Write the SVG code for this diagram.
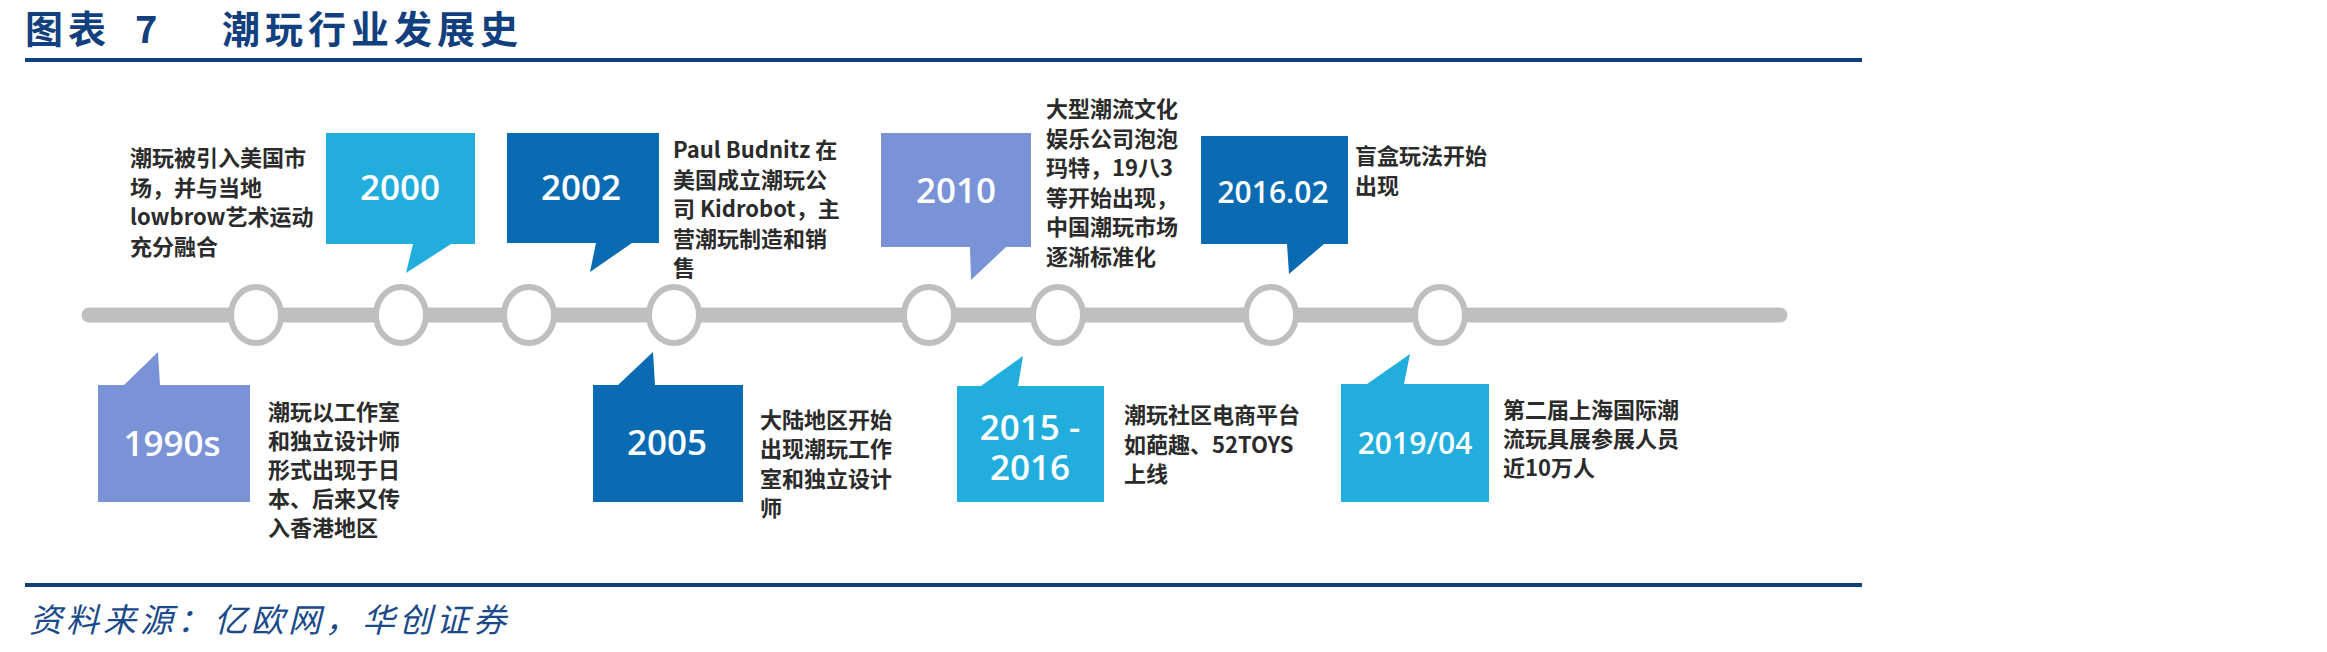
<svg xmlns="http://www.w3.org/2000/svg" width="2327" height="652" viewBox="0 0 2327 652">
<style>
.t{font-family:"Noto Sans CJK SC",sans-serif;font-weight:bold;fill:#12407f}
.f{font-family:"Noto Sans CJK SC",sans-serif;font-style:italic;fill:#1b4a8a}
.d{font-family:"Noto Sans CJK SC","Liberation Sans",sans-serif;font-weight:bold;font-size:22px;fill:#2b2b2b}
.y{font-family:"Open Sans","Liberation Sans",sans-serif;font-weight:600;font-size:35px;fill:#fff;text-anchor:middle}
.ys{font-size:30px}
.c1{fill:#22aedd}
.c2{fill:#0a6bb3}
.c3{fill:#7a92d6}
.dot{fill:#fff;stroke:#bfbfbf;stroke-width:6}
</style>
<rect width="2327" height="652" fill="#fff"/>
<g id="header">
<text class="t" x="25" y="43" font-size="38" letter-spacing="5">图表</text>
<text class="t" x="135" y="43" font-size="38" font-family="Liberation Serif,serif">7</text>
<text class="t" x="222" y="43" font-size="38" letter-spacing="5">潮玩行业发展史</text>
<rect x="25" y="58" width="1837" height="4" fill="#12407f"/>
</g>
<g id="connectors">
<line x1="89" y1="315" x2="1780" y2="315" stroke="#bfbfbf" stroke-width="15" stroke-linecap="round"/>
</g>
<g id="points">
<ellipse class="dot" cx="256" cy="315" rx="25" ry="28"/>
<ellipse class="dot" cx="401" cy="315" rx="25" ry="28"/>
<ellipse class="dot" cx="529" cy="315" rx="25" ry="28"/>
<ellipse class="dot" cx="674" cy="315" rx="25" ry="28"/>
<ellipse class="dot" cx="929" cy="315" rx="25" ry="28"/>
<ellipse class="dot" cx="1058" cy="315" rx="25" ry="28"/>
<ellipse class="dot" cx="1271" cy="315" rx="25" ry="28"/>
<ellipse class="dot" cx="1440" cy="315" rx="25" ry="28"/>
</g>
<g id="e1990s">
<path class="c3" d="M98 385H124L158 352L160 385H250V502H98Z"/>
<text class="y" x="172" y="456">1990s</text>
<text class="d" x="268" y="420"><tspan x="268">潮玩以工作室</tspan><tspan x="268" dy="29">和独立设计师</tspan><tspan x="268" dy="29">形式出现于日</tspan><tspan x="268" dy="29">本、后来又传</tspan><tspan x="268" dy="29">入香港地区</tspan></text>
</g>
<g id="e2000">
<path class="c1" d="M326 133H475V244H451L406 273L413 244H326Z"/>
<text class="y" x="400" y="200">2000</text>
<text class="d" x="130" y="166"><tspan x="130">潮玩被引入美国市</tspan><tspan x="130" dy="29.7">场，并与当地</tspan><tspan x="130" dy="29.7">lowbrow艺术运动</tspan><tspan x="130" dy="29.7">充分融合</tspan></text>
</g>
<g id="e2002">
<path class="c2" d="M507 133H659V243H632L590 272L596 243H507Z"/>
<text class="y" x="581" y="200">2002</text>
<text class="d" x="673" y="158"><tspan x="673">Paul Budnitz 在</tspan><tspan x="673" dy="29.5">美国成立潮玩公</tspan><tspan x="673" dy="29.5">司 Kidrobot，主</tspan><tspan x="673" dy="29.5">营潮玩制造和销</tspan><tspan x="673" dy="29.5">售</tspan></text>
</g>
<g id="e2005">
<path class="c2" d="M593 385H618L653 352L655 385H743V502H593Z"/>
<text class="y" x="667" y="455">2005</text>
<text class="d" x="760" y="428"><tspan x="760">大陆地区开始</tspan><tspan x="760" dy="29.3">出现潮玩工作</tspan><tspan x="760" dy="29.3">室和独立设计</tspan><tspan x="760" dy="29.3">师</tspan></text>
</g>
<g id="e2010">
<path class="c3" d="M881 133H1031V247H1006L971 280L970 247H881Z"/>
<text class="y" x="956" y="203">2010</text>
<text class="d" x="1046" y="117"><tspan x="1046">大型潮流文化</tspan><tspan x="1046" dy="29.6">娱乐公司泡泡</tspan><tspan x="1046" dy="29.6">玛特，19八3</tspan><tspan x="1046" dy="29.6">等开始出现，</tspan><tspan x="1046" dy="29.6">中国潮玩市场</tspan><tspan x="1046" dy="29.6">逐渐标准化</tspan></text>
</g>
<g id="e2015">
<path class="c1" d="M957 386H981L1023 356L1018 386H1104V502H957Z"/>
<text class="y" x="1030" y="440">2015 -</text>
<text class="y" x="1030" y="480">2016</text>
<text class="d" x="1124" y="423"><tspan x="1124">潮玩社区电商平台</tspan><tspan x="1124" dy="29.5">如葩趣、52TOYS</tspan><tspan x="1124" dy="29.5">上线</tspan></text>
</g>
<g id="e2016">
<path class="c2" d="M1201 136H1348V244H1324L1289 274L1287 244H1201Z"/>
<text class="y ys" x="1273" y="203">2016.02</text>
<text class="d" x="1355" y="164"><tspan x="1355">盲盒玩法开始</tspan><tspan x="1355" dy="30">出现</tspan></text>
</g>
<g id="e2019">
<path class="c1" d="M1341 384H1367L1410 354L1404 384H1489V502H1341Z"/>
<text class="y ys" x="1415" y="454">2019/04</text>
<text class="d" x="1503" y="418"><tspan x="1503">第二届上海国际潮</tspan><tspan x="1503" dy="29">流玩具展参展人员</tspan><tspan x="1503" dy="29">近10万人</tspan></text>
</g>
<g id="footer">
<rect x="25" y="583" width="1837" height="4" fill="#12407f"/>
<text class="f" x="29" y="632" font-size="33" letter-spacing="4">资料来源：亿欧网，华创证券</text>
</g>
</svg>
